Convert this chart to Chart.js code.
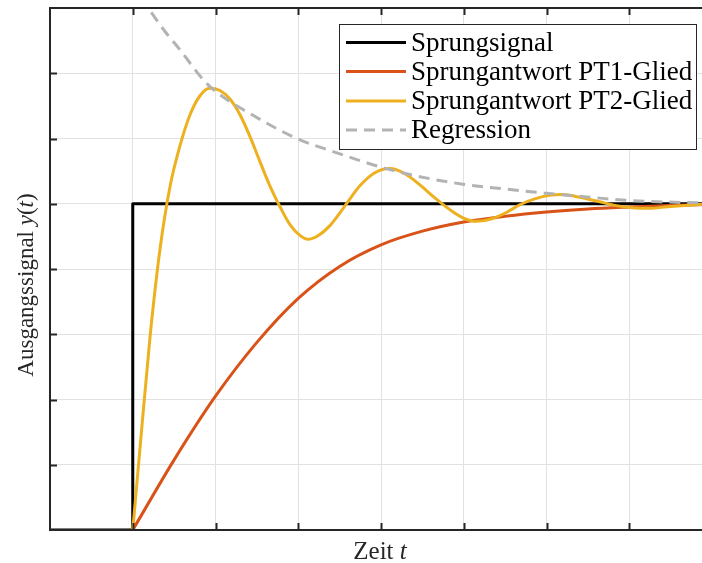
<!DOCTYPE html>
<html>
<head>
<meta charset="utf-8">
<script src="https://cdn.jsdelivr.net/npm/chart.js"></script>
<style>
  html, body { margin: 0; padding: 0; overflow: hidden; background: #fff; }
  #wrap { width: 720px; height: 563px; }
</style>
</head>
<body>
<div id="wrap"><canvas id="chart" width="720" height="563"></canvas></div>
<script>
// Werte (Zeit t, Ausgang y)
const labels = ['Sprungsignal', 'Sprungantwort PT1-Glied', 'Sprungantwort PT2-Glied', 'Regression'];
const colors = ['#000000', '#D95319', '#EDB120', '#B3B3B3'];

const stepT = [-1, 0, 0, 7];
const stepY = [0, 0, 1, 1];

const pt1T = [0, 0.5, 1.0, 1.5, 2.0, 2.5, 3.0, 3.5, 4.0, 4.5, 5.0, 5.5, 6.0, 6.5, 7.0];
const pt1Y = [0, 0.215, 0.41, 0.575, 0.71, 0.808, 0.874, 0.916, 0.944, 0.962, 0.975, 0.984, 0.99, 0.995, 0.998];

const pt2T = [0, 0.088, 0.209, 0.33, 0.45, 0.571, 0.692, 0.813, 0.925, 1.054, 1.175, 1.296, 1.417, 1.537,
              1.658, 1.779, 1.9, 2.02, 2.117, 2.238, 2.383, 2.504, 2.625, 2.745, 2.926, 3.108, 3.289, 3.47,
              3.651, 3.832, 3.989, 4.158, 4.339, 4.52, 4.677, 4.858, 5.039, 5.196, 5.402, 5.643, 5.824,
              6.03, 6.247, 6.464, 6.669, 7.0];
const pt2Y = [0, 0.252, 0.592, 0.862, 1.052, 1.178, 1.273, 1.331, 1.354, 1.347, 1.321, 1.273, 1.206, 1.129,
              1.054, 0.991, 0.936, 0.903, 0.891, 0.902, 0.933, 0.972, 1.015, 1.055, 1.095, 1.108, 1.092, 1.058,
              1.018, 0.982, 0.957, 0.946, 0.954, 0.974, 0.997, 1.015, 1.026, 1.028, 1.02, 1.006, 0.995,
              0.988, 0.986, 0.991, 0.995, 1.0];

const regT = [0.09, 0.185, 0.39, 0.57, 0.885, 1.175, 1.42, 1.72, 2.02, 2.42, 2.99, 3.47, 3.99, 4.5, 5.0, 5.52, 6.0, 6.49, 7.0];
const regY = [1.63, 1.60, 1.528, 1.472, 1.371, 1.313, 1.276, 1.233, 1.196, 1.16, 1.113, 1.083, 1.06, 1.045, 1.032, 1.02, 1.01, 1.005, 1.002];

const xTicks = [0, 1, 2, 3, 4, 5, 6];
const yTicks = [0.2, 0.4, 0.6, 0.8, 1.0, 1.2, 1.4];

const toPoints = (xs, ys) => xs.map((x, i) => ({ x: x, y: ys[i] }));

const FONT = '"Liberation Serif", "DejaVu Serif", serif';
const AXIS = '#262626';

// Achsenrahmen, Ticks nach innen, Legende und Achsentitel
const decorations = {
    id: 'decorations',
    afterDatasetsDraw(chart) {
        const { ctx, chartArea: a, scales } = chart;
        ctx.save();

        ctx.strokeStyle = AXIS;
        ctx.lineWidth = 2;
        ctx.beginPath();
        ctx.moveTo(a.left, a.top);
        ctx.lineTo(a.right, a.top);
        ctx.lineTo(a.right, a.bottom);
        ctx.lineTo(a.left, a.bottom);
        ctx.closePath();
        ctx.stroke();

        const tl = 7;
        ctx.beginPath();
        xTicks.forEach(v => {
            const px = Math.round(scales.x.getPixelForValue(v)) + 0.5;
            ctx.moveTo(px, a.bottom); ctx.lineTo(px, a.bottom - tl);
            ctx.moveTo(px, a.top); ctx.lineTo(px, a.top + tl);
        });
        yTicks.forEach(v => {
            const py = Math.round(scales.y.getPixelForValue(v)) + 0.5;
            ctx.moveTo(a.left, py); ctx.lineTo(a.left + tl, py);
            ctx.moveTo(a.right, py); ctx.lineTo(a.right - tl, py);
        });
        ctx.stroke();

        // Legende
        const box = { x: 339.5, y: 24.5, w: 357, h: 125 };
        ctx.fillStyle = '#fff';
        ctx.fillRect(box.x, box.y, box.w, box.h);
        ctx.strokeStyle = AXIS;
        ctx.lineWidth = 1;
        ctx.strokeRect(box.x, box.y, box.w, box.h);

        const rows = [42.5, 71.5, 101, 130];
        ctx.font = '27px ' + FONT;
        ctx.textBaseline = 'middle';
        chart.data.datasets.forEach((ds, i) => {
            const y = rows[i];
            ctx.strokeStyle = ds.borderColor;
            ctx.lineWidth = 3;
            ctx.setLineDash(ds.borderDash || []);
            ctx.beginPath();
            ctx.moveTo(346, y); ctx.lineTo(406, y);
            ctx.stroke();
            ctx.setLineDash([]);
            ctx.fillStyle = '#000';
            ctx.textAlign = 'left';
            ctx.fillText(ds.label, 411, y + 1);
        });

        // x-Achsentitel: Zeit t
        ctx.fillStyle = '#262626';
        ctx.textBaseline = 'alphabetic';
        const up = '25px ' + FONT, it = 'italic 25px ' + FONT;
        drawParts(ctx, [['Zeit ', up], ['t', it]], 380, 559);

        // y-Achsentitel: Ausgangssignal y(t)
        const upY = '23px ' + FONT, itY = 'italic 23px ' + FONT;
        ctx.translate(33, 285);
        ctx.rotate(-Math.PI / 2);
        drawParts(ctx, [['Ausgangssignal ', upY], ['y', itY], ['(', upY], ['t', itY], [')', upY]], 0, 0);

        ctx.restore();
    }
};

function drawParts(ctx, parts, cx, baseline) {
    let total = 0;
    parts.forEach(p => { ctx.font = p[1]; total += ctx.measureText(p[0]).width; });
    let x = cx - total / 2;
    ctx.textAlign = 'left';
    parts.forEach(p => {
        ctx.font = p[1];
        ctx.fillText(p[0], x, baseline);
        x += ctx.measureText(p[0]).width;
    });
}

new Chart(document.getElementById('chart').getContext('2d'), {
    type: 'line',
    data: {
        datasets: [
            { label: labels[0], data: toPoints(stepT, stepY), borderColor: colors[0], tension: 0, order: 3 },
            { label: labels[1], data: toPoints(pt1T, pt1Y), borderColor: colors[1], cubicInterpolationMode: 'monotone', order: 2 },
            { label: labels[2], data: toPoints(pt2T, pt2Y), borderColor: colors[2], cubicInterpolationMode: 'monotone', order: 1 },
            { label: labels[3], data: toPoints(regT, regY), borderColor: colors[3], borderDash: [11, 7], cubicInterpolationMode: 'monotone', order: 0 }
        ]
    },
    options: {
        responsive: false,
        animation: false,
        devicePixelRatio: 1,
        layout: { padding: { left: 50, top: 8, right: 8, bottom: 33 } },
        elements: {
            point: { radius: 0 },
            line: { borderWidth: 3, fill: false, borderCapStyle: 'butt', borderJoinStyle: 'round' }
        },
        plugins: {
            legend: { display: false },
            tooltip: { enabled: false }
        },
        scales: {
            x: {
                type: 'linear', min: -1, max: 7,
                ticks: { display: false, stepSize: 1 },
                grid: { color: '#e2e2e2', lineWidth: 1, drawTicks: false },
                border: { display: false },
                afterFit: s => { s.height = 0; }
            },
            y: {
                type: 'linear', min: 0, max: 1.6,
                ticks: { display: false, stepSize: 0.2 },
                grid: { color: '#e2e2e2', lineWidth: 1, drawTicks: false },
                border: { display: false },
                afterFit: s => { s.width = 0; }
            }
        }
    },
    plugins: [decorations]
});
</script>
</body>
</html>
